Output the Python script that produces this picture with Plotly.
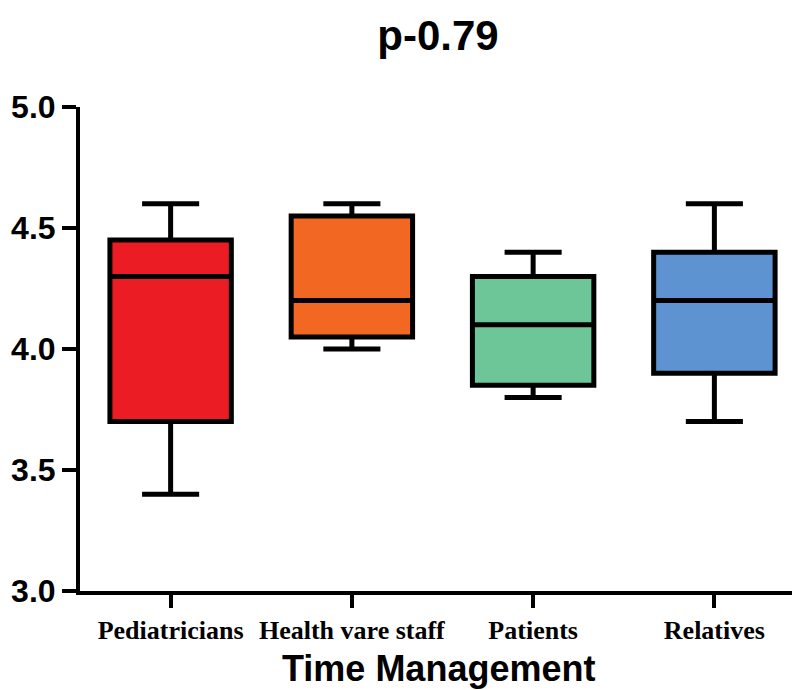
import plotly.graph_objects as go

categories = ["Pediatricians", "Health vare staff", "Patients", "Relatives"]
lower_whisker = [3.4, 4.0, 3.8, 3.7]
q1_values = [3.7, 4.05, 3.85, 3.9]
medians = [4.3, 4.2, 4.1, 4.2]
q3_values = [4.45, 4.55, 4.3, 4.4]
upper_whisker = [4.6, 4.6, 4.4, 4.6]
fill_colors = ["#EC1C24", "#F26722", "#6DC698", "#5E93D1"]
y_ticks = [3.0, 3.5, 4.0, 4.5, 5.0]
title_text = "p-0.79"
x_title = "Time Management"

fig = go.Figure()
for i, cat in enumerate(categories):
    fig.add_trace(go.Box(
        x=[cat],
        q1=[q1_values[i]],
        median=[medians[i]],
        q3=[q3_values[i]],
        lowerfence=[lower_whisker[i]],
        upperfence=[upper_whisker[i]],
        fillcolor=fill_colors[i],
        line=dict(color="black", width=5),
        width=0.67,
        whiskerwidth=0.47,
        boxpoints=False,
        showlegend=False,
        name=cat,
    ))

fig.update_layout(
    width=800, height=690,
    margin=dict(l=72, r=3, t=99, b=107, autoexpand=False),
    paper_bgcolor="white", plot_bgcolor="white",
    boxmode="overlay",
    title=dict(text=title_text, x=430/800, xanchor="center",
               y=1 - 27/690, yanchor="middle", yref="container",
               font=dict(family="Liberation Sans", size=42, color="black", weight="bold")),
    xaxis=dict(
        type="category", categoryorder="array", categoryarray=categories,
        range=[-0.5, 3.5], automargin=False,
        showline=True, linecolor="black", linewidth=4,
        ticks="outside", ticklen=13, tickwidth=4, tickcolor="black",
        showgrid=False, zeroline=False,
        tickfont=dict(family="Liberation Serif", size=26, color="black", weight="bold"),
    ),
    yaxis=dict(
        range=[3.0, 5.0], tickvals=y_ticks, ticktext=[f"{v:.1f}" for v in y_ticks],
        automargin=False,
        showline=True, linecolor="black", linewidth=4,
        ticks="outside", ticklen=14, tickwidth=4, tickcolor="black",
        showgrid=False, zeroline=False,
        tickfont=dict(family="Liberation Sans", size=32, color="black", weight="bold"),
    ),
    annotations=[dict(
        text=x_title, xref="paper", yref="paper",
        x=(430 - 72) / 725, y=-(660 - 583) / 484,
        xanchor="center", yanchor="middle", showarrow=False,
        font=dict(family="Liberation Sans", size=36, color="black", weight="bold"),
    )],
)

fig.write_html("out.html")
